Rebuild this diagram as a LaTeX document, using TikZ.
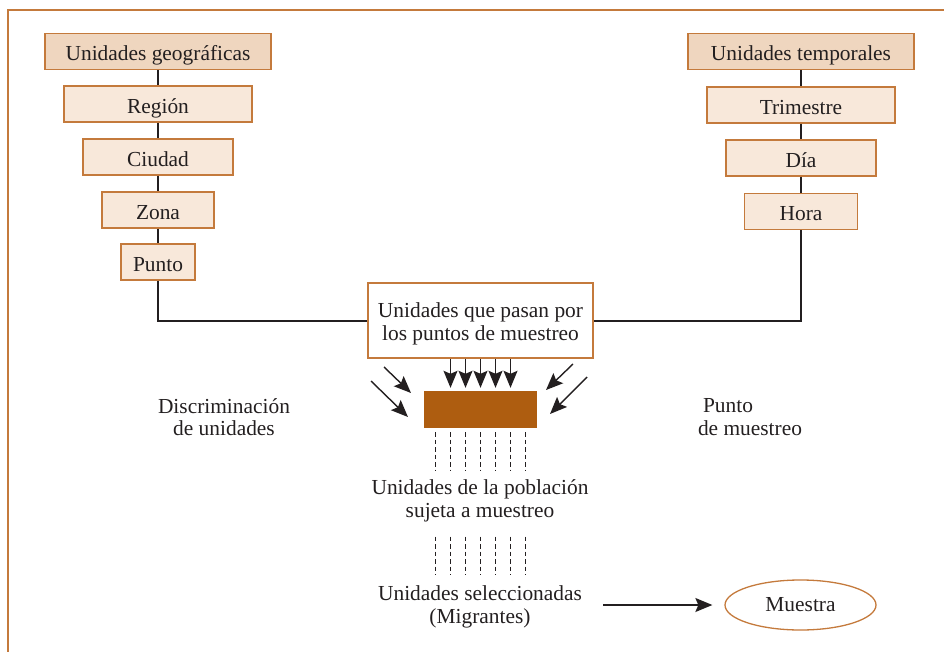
\documentclass[tikz,border=0pt]{standalone}
\usepackage{fontspec}
\setmainfont{Liberation Serif}
\usetikzlibrary{arrows.meta,shapes.geometric}

\definecolor{marco}{HTML}{C47A3C}
\definecolor{claro}{HTML}{F8E8DA}
\definecolor{medio}{HTML}{EFD6BF}
\definecolor{cafe}{HTML}{AE5D10}
\definecolor{tinta}{HTML}{231F20}

\tikzset{
	caja/.style = {draw=marco, line width=1.3pt, fill=claro, inner sep=0pt,
		minimum height=36, text height=19.4pt, text depth=1pt},
	titulo/.style = {caja, fill=medio},
	liga/.style = {draw=tinta, line width=2pt},
	flecha/.style = {draw=tinta, line width=1.4pt,
		-{Stealth[length=17pt, width=14pt, inset=3pt]}},
	puntos/.style = {draw=tinta, line width=1pt, dash pattern=on 4.5pt off 3pt},
}

\begin{document}
\begin{tikzpicture}[x=1pt, y=-1pt, font=\fontsize{21.4}{22.5}\selectfont, text=tinta]
		\useasboundingbox (0, 0) rectangle (944, 652);
		\draw[marco, line width=1.3pt] (944, 10) -- (8, 10) -- (8, 652);

		\path (158, 51.5) node (Geo)    [titulo, minimum width=226] {Unidades geográficas};
		\path (158, 104)  node (Region) [caja, minimum width=188] {Región};
		\path (158, 157)  node (Ciudad) [caja, minimum width=150] {Ciudad};
		\path (158, 210)  node (Zona)   [caja, minimum width=112] {Zona};
		\path (158, 262)  node (Punto)  [caja, minimum width=74]  {Punto};

		\path (801, 51.5) node (Tiempo)    [titulo, minimum width=226] {Unidades temporales};
		\path (801, 105)  node (Trimestre) [caja, minimum width=188] {Trimestre};
		\path (801, 158)  node (Dia)       [caja, minimum width=150] {Día};
		\path (801, 211.5) node (Hora)     [caja, minimum width=113] {Hora};

		\path (480.5, 320.5) node (Centro)
			[caja, fill=white, minimum width=225, minimum height=75, align=center,
				text height=40pt, text depth=1pt]
				{Unidades que pasan por\\los puntos de muestreo};
		\path (480.5, 409.5) node (Bloque)
			[fill=cafe, minimum width=113, minimum height=37] {};

		\path (224, 417) node (Discrimina) [align=center] {Discriminación\\de unidades};
		\path (750, 417) node (PuntoMuestreo) [align=left] {\hspace*{5pt}Punto\\de muestreo};
		\path (480, 501) node (Poblacion) [align=center]
			{Unidades de la población\\sujeta a muestreo};
		\path (480, 607) node (Seleccion) [align=center]
			{Unidades seleccionadas\\(Migrantes)};
		\path (800.5, 605) node (Muestra)
			[ellipse, draw=marco, line width=1.3pt, minimum width=151, minimum height=50]
				{Muestra};

		\draw[liga] (Geo) -- (Region);
		\draw[liga] (Region) -- (Ciudad);
		\draw[liga] (Ciudad) -- (Zona);
		\draw[liga] (Zona) -- (Punto);
		\draw[liga] (Punto.south) |- (Centro.west);
		\draw[liga] (Tiempo) -- (Trimestre);
		\draw[liga] (Trimestre) -- (Dia);
		\draw[liga] (Dia) -- (Hora);
		\draw[liga] (Hora.south) |- (Centro.east);

		\foreach \dx in {-30, -15, 0, 15, 30}
			\draw[flecha] ([xshift=\dx]Centro.south) -- ([xshift=\dx, yshift=3]Bloque.north);

		\coordinate (IzqA) at (384, 367);
		\coordinate (IzqB) at (371, 381);
		\coordinate (DerA) at (573, 364);
		\coordinate (DerB) at (587, 377);
		\draw[flecha] (IzqA) -- (411, 393);
		\draw[flecha] (IzqB) -- (408, 417);
		\draw[flecha] (DerA) -- (546, 390);
		\draw[flecha] (DerB) -- (550, 414);

		\foreach \dx in {-45, -30, -15, 0, 15, 30, 45} {
			\draw[puntos] ([xshift=\dx, yshift=-4]Bloque.south) -- ++(0, 38);
			\draw[puntos] ([xshift=\dx+0.5, yshift=-11]Poblacion.south) -- ++(0, 38);
		}

		\draw[flecha] (603, 605) -- ([xshift=-12]Muestra.west);
	\end{tikzpicture}
\end{document}
